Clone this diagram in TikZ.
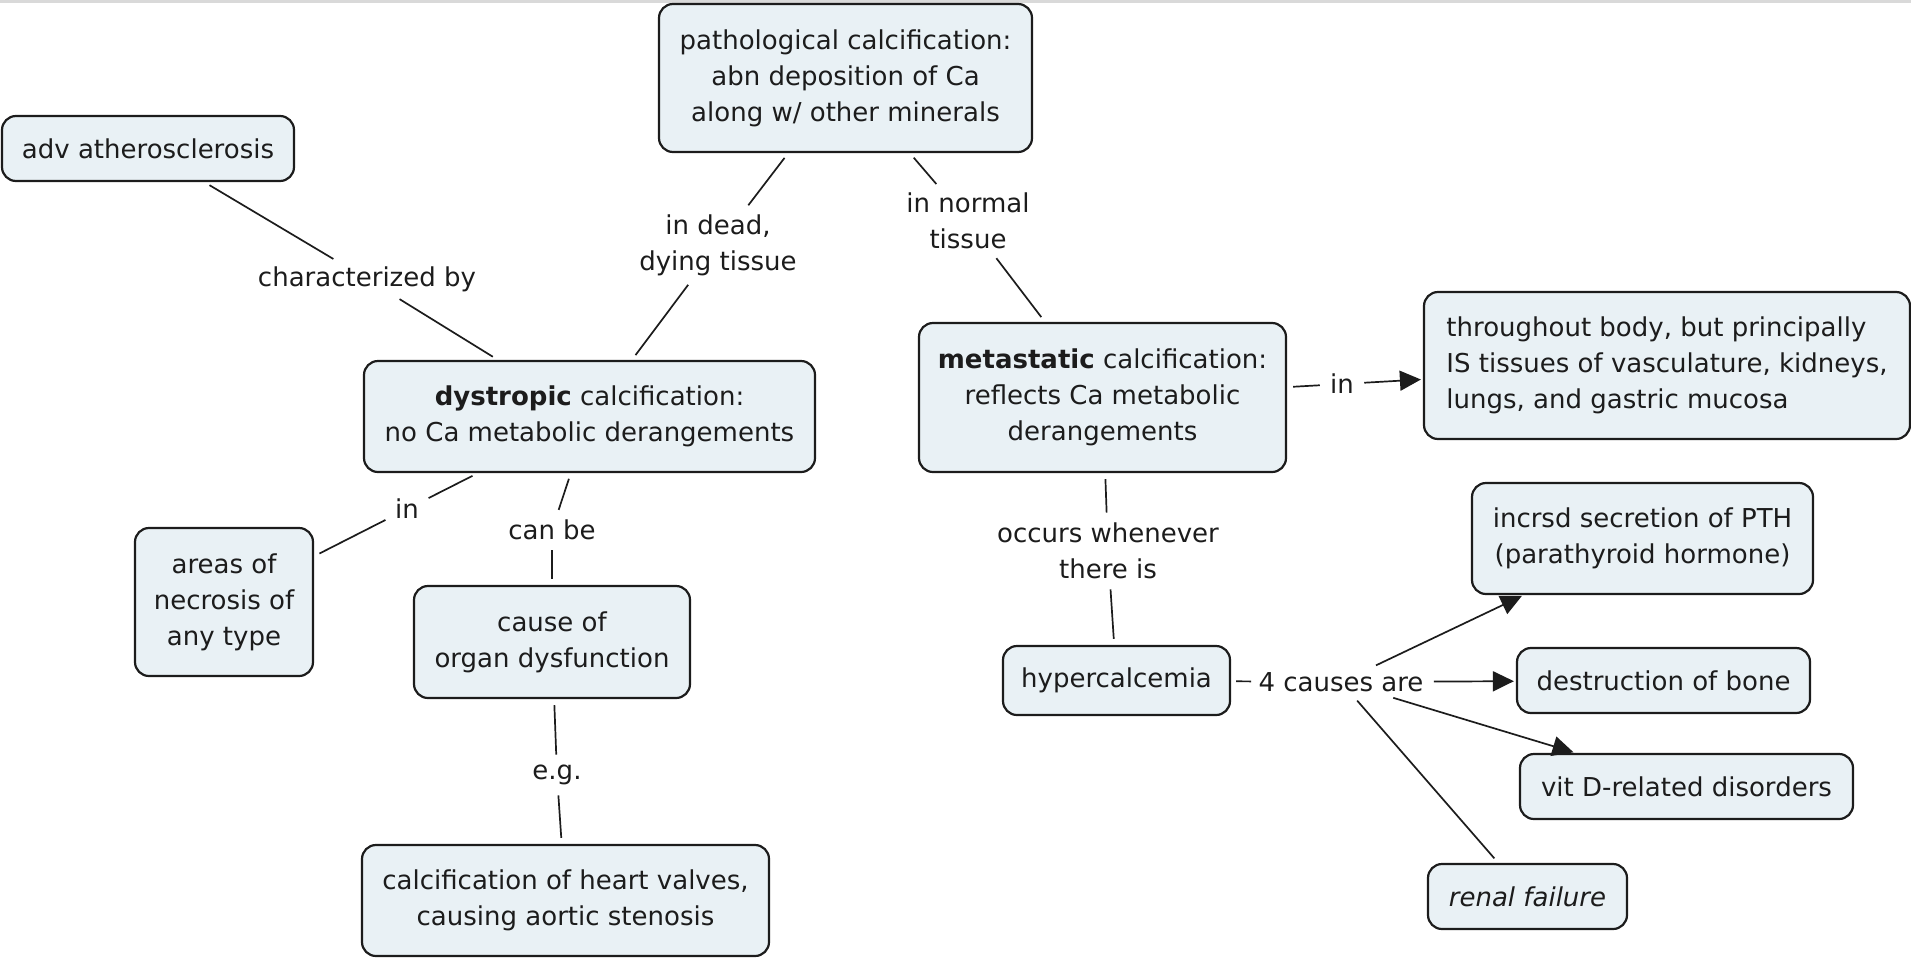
\documentclass[tikz,border=0pt]{standalone}
\usepackage{fontspec}
\setmainfont{DejaVu Sans}
\usetikzlibrary{arrows.meta}
\definecolor{conceptfill}{HTML}{E9F1F5}
\definecolor{inkgray}{HTML}{1C1C1C}

\begin{document}
\begin{tikzpicture}[x=0.5pt,y=-0.5pt,
    concept/.style={draw=inkgray, fill=conceptfill, line width=1.1pt, rounded corners=7pt,
      align=center, inner sep=0pt, text=inkgray},
    linkword/.style={inner sep=2pt, align=center, text=inkgray},
    link/.style={draw=inkgray, line width=0.85pt, shorten <=3pt, shorten >=3pt},
    linkarrow/.style={link, shorten >=1pt, -{Triangle[length=10.5pt,width=10pt]}}]
        \tikzstyle{every node}+=[font=\fontsize{13}{18}\selectfont]
        \useasboundingbox (0,0) rectangle (1911,959);
        \fill [black!15] (0,0) rectangle (1911,3);
        % concepts
        \node [concept, minimum width=186.5pt, minimum height=74pt] (patho) at (845.5,78)
          {pathological calcification:\\abn deposition of Ca\\along w/ other minerals};
        \node [concept, minimum width=146pt, minimum height=32.5pt] (adv) at (148,148.5)
          {adv atherosclerosis};
        \node [concept, minimum width=225.5pt, minimum height=55.5pt] (dys) at (589.5,416.5)
          {\textbf{dystropic} calcification:\\no Ca metabolic derangements};
        \node [concept, minimum width=183.5pt, minimum height=74.5pt] (meta) at (1102.5,397.5)
          {\textbf{metastatic} calcification:\\reflects Ca metabolic\\derangements};
        \node [concept, align=left, minimum width=243pt, minimum height=73.5pt] (sites) at (1667,365.5)
          {throughout body, but principally\\IS tissues of vasculature, kidneys,\\lungs, and gastric mucosa};
        \node [concept, minimum width=89pt, minimum height=74pt] (necro) at (224,602)
          {areas of\\necrosis of\\any type};
        \node [concept, minimum width=138pt, minimum height=56pt] (organ) at (552,642)
          {cause of\\organ dysfunction};
        \node [concept, minimum width=203.5pt, minimum height=55.5pt] (valves) at (565.5,900.5)
          {calcification of heart valves,\\causing aortic stenosis};
        \node [concept, minimum width=113.5pt, minimum height=34.5pt] (hyper) at (1116.5,680.5)
          {hypercalcemia};
        \node [concept, minimum width=170.5pt, minimum height=55.5pt] (pth) at (1642.5,538.5)
          {incrsd secretion of PTH\\(parathyroid hormone)};
        \node [concept, minimum width=146.5pt, minimum height=32.5pt] (bone) at (1663.5,680.5)
          {destruction of bone};
        \node [concept, minimum width=166.5pt, minimum height=32.5pt] (vitd) at (1686.5,786.5)
          {vit D-related disorders};
        \node [concept, minimum width=99.5pt, minimum height=32.5pt] (renal) at (1527.5,896.5)
          {\itshape renal failure};
        % linking words
        \node [linkword] (charby) at (367,279) {characterized by};
        \node [linkword] (indead) at (718,245) {in dead,\\dying tissue};
        \node [linkword] (innormal) at (968,221) {in normal\\tissue};
        \node [linkword] (inNec) at (407,509) {in};
        \node [linkword] (canbe) at (552,530) {can be};
        \node [linkword] (eg) at (557,775) {e.g.};
        \node [linkword] (inSites) at (1342,384) {in};
        \node [linkword] (occurs) at (1108,551) {occurs whenever\\there is};
        \node [linkword] (causes) at (1341,682) {4 causes are};
        % connections
        \draw [link] (adv) -- (charby);
        \draw [link] (charby) -- (dys);
        \draw [link] (patho) -- (indead);
        \draw [link] (indead) -- (dys);
        \draw [link] (patho) -- (innormal);
        \draw [link] (innormal) -- (meta);
        \draw [link] (dys) -- (inNec);
        \draw [link] (inNec) -- (necro);
        \draw [link] (dys) -- (canbe);
        \draw [link] (canbe) -- (organ);
        \draw [link] (organ) -- (eg);
        \draw [link] (eg) -- (valves);
        \draw [link] (meta) -- (inSites);
        \draw [linkarrow] (inSites) -- (sites);
        \draw [link] (meta) -- (occurs);
        \draw [link] (occurs) -- (hyper);
        \draw [link, shorten <=2.5pt, shorten >=1.5pt] (hyper) -- (causes);
        \draw [linkarrow] (causes) -- (pth);
        \draw [linkarrow] (causes) -- (bone);
        \draw [linkarrow] (causes) -- (vitd);
        \draw [link] (causes) -- (renal);
\end{tikzpicture}
\end{document}
